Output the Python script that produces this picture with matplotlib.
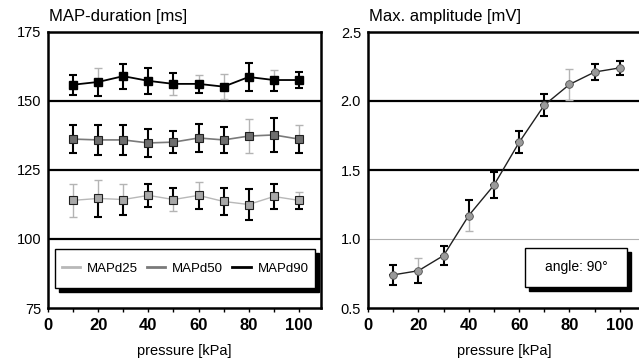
import matplotlib.pyplot as plt
from matplotlib.patches import Rectangle

# pressure steps (kPa)
pressure = [10, 20, 30, 40, 50, 60, 70, 80, 90, 100]

# MAP-duration (ms)
mapd25 = [114.0, 114.7, 114.3, 115.8, 114.3, 115.8, 113.6, 112.5, 115.4, 114.0]
mapd25_err = [5.9, 6.6, 5.5, 4.2, 4.0, 5.0, 4.8, 5.7, 4.4, 3.1]
mapd50 = [136.2, 135.9, 135.9, 134.8, 135.1, 136.6, 135.9, 137.3, 137.7, 136.2]
mapd50_err = [5.2, 5.5, 5.5, 5.0, 4.0, 5.0, 4.8, 6.0, 6.0, 5.0]
mapd90 = [155.9, 156.9, 159.0, 157.3, 156.2, 156.2, 155.2, 158.7, 157.6, 157.6]
mapd90_err = [3.6, 5.2, 4.5, 4.8, 3.9, 3.2, 4.5, 5.2, 3.8, 2.9]

# Max. amplitude (mV)
amplitude = [0.74, 0.77, 0.88, 1.17, 1.39, 1.70, 1.97, 2.12, 2.21, 2.24]
amplitude_err = [0.075, 0.09, 0.07, 0.11, 0.095, 0.08, 0.08, 0.11, 0.06, 0.05]

# error bar colours, one letter per point for the upper and the lower half
# (k = black, g = light grey), as in the original figure
BLACK = '#000000'
LIGHT = '#b4b4b4'
cols = {'k': BLACK, 'g': LIGHT}
bar25 = ('gggkkgkkkg', 'gkkkgkkkkk')
bar50 = ('kkkkkkkgkg', 'kkkkkkkgkk')
bar90 = ('kgkkkggkgk', 'kkkkgkgkkk')
bar_amp = ('kgkkkkkgkk', 'kkkgkkkgkk')

plt.rcParams['font.family'] = ['Liberation Sans', 'DejaVu Sans']

fig = plt.figure(figsize=(6.39, 3.62), dpi=100)
ax1 = fig.add_axes([48/639, 1-308/362, 273/639, 276/362])
ax2 = fig.add_axes([368/639, 1-308/362, 272/639, 276/362])


def draw_errors(ax, x, y, err, codes):
    up, down = codes
    for i in range(len(x)):
        for c, ye in [(up[i], [[0], [err[i]]]), (down[i], [[err[i]], [0]])]:
            w = 1.5 if c == 'k' else 1
            ax.errorbar(x[i], y[i], yerr=ye, fmt='none', ecolor=cols[c],
                        elinewidth=w, capsize=3, capthick=w, zorder=3)


def shadow_box(ax, x0, y0, w, h):
    # white box with a black drop shadow to the lower right (axes coords)
    dx, dy = 4/272, 4/276
    ax.add_patch(Rectangle((x0 + dx, y0 - dy), w, h, transform=ax.transAxes,
                           fc=BLACK, ec=BLACK, lw=1, zorder=6))
    ax.add_patch(Rectangle((x0, y0), w, h, transform=ax.transAxes,
                           fc='white', ec=BLACK, lw=1, zorder=7))


# left panel: MAP-duration
for v in [100, 125, 150]:
    ax1.axhline(v, color=BLACK, lw=1.6, zorder=1)
draw_errors(ax1, pressure, mapd25, mapd25_err, bar25)
draw_errors(ax1, pressure, mapd50, mapd50_err, bar50)
draw_errors(ax1, pressure, mapd90, mapd90_err, bar90)
ax1.plot(pressure, mapd25, color='#b8b8b8', lw=1, marker='s', ms=6,
         mfc='#a8a8a8', mec='#202020', mew=0.8, zorder=4, label='MAPd25')
ax1.plot(pressure, mapd50, color='#7a7a7a', lw=1.2, marker='s', ms=6,
         mfc='#6e6e6e', mec='#202020', mew=0.8, zorder=4, label='MAPd50')
ax1.plot(pressure, mapd90, color=BLACK, lw=1.3, marker='s', ms=6,
         mfc=BLACK, mec=BLACK, zorder=4, label='MAPd90')
ax1.set_xlim(0, 108.8)
ax1.set_ylim(75, 175)
ax1.set_yticks([75, 100, 125, 150, 175])

shadow_box(ax1, 0.026, 0.072, 0.952, 0.142)
leg = ax1.legend(loc='center', bbox_to_anchor=(0.502, 0.143), ncol=3,
                 frameon=False, fontsize=9.5, handlelength=1.4,
                 handletextpad=0.5, columnspacing=0.7)
leg.set_zorder(8)
for h in leg.legend_handles:
    h.set_marker('')
    h.set_linewidth(2)

# right panel: max. amplitude
for v, c, w in [(1.5, BLACK, 1.6), (2.0, BLACK, 1.6), (1.0, '#b0b0b0', 0.8)]:
    ax2.axhline(v, color=c, lw=w, zorder=1)
draw_errors(ax2, pressure, amplitude, amplitude_err, bar_amp)
ax2.plot(pressure, amplitude, color='#202020', lw=1, marker='o', ms=5.5,
         mfc='#9a9a9a', mec='#505050', mew=0.6, zorder=4)
ax2.set_xlim(0, 108)
ax2.set_ylim(0.5, 2.5)
ax2.set_yticks([0.5, 1.0, 1.5, 2.0, 2.5])
ax2.set_yticklabels(['0.5', '1.0', '1.5', '2.0', '2.5'])
ax2.spines['right'].set_visible(False)
shadow_box(ax2, 0.577, 0.076, 0.375, 0.141)
ax2.text(0.765, 0.147, 'angle: 90°', transform=ax2.transAxes, ha='center',
         va='center', fontsize=10, zorder=8)

for ax, title in [(ax1, 'MAP-duration [ms]'), (ax2, 'Max. amplitude [mV]')]:
    for s in ['left', 'bottom', 'top', 'right']:
        ax.spines[s].set_linewidth(1.8)
    ax.set_xticks([0, 20, 40, 60, 80, 100])
    ax.set_xticks([10, 30, 50, 70, 90], minor=True)
    ax.tick_params(axis='x', which='both', direction='out', length=3, width=1,
                   labelsize=12, pad=4)
    ax.tick_params(axis='y', length=0, labelsize=10.5, pad=5)
    for t in ax.get_xticklabels():
        t.set_fontweight('bold')
    ax.set_xlabel('pressure [kPa]', fontsize=10.5, labelpad=8)
    ax.text(0.005, 1.03, title, transform=ax.transAxes, fontsize=12,
            ha='left', va='bottom')

fig.savefig('out.png', dpi=100)
